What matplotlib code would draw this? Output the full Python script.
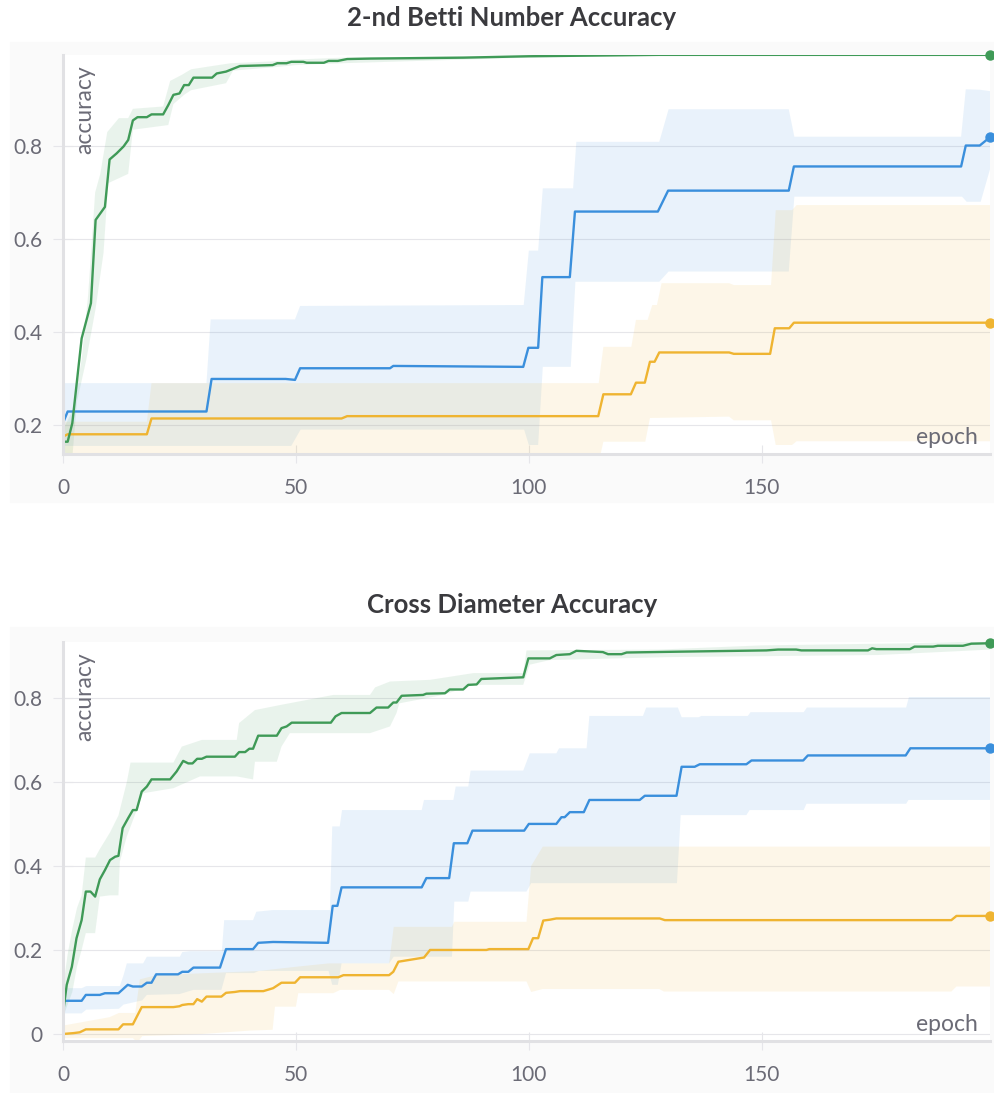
import matplotlib
matplotlib.use("Agg")
import matplotlib.pyplot as plt
from matplotlib.patches import Rectangle
import numpy as np

plt.rcParams["font.family"] = ["Lato", "DejaVu Sans"]

GREEN = "#3f9a57"
BLUE = "#3a8fdc"
YELLOW = "#efb431"
GRID = "#e6e6ea"
AXIS = "#e1e1e4"
TEXT = "#6b6b76"
TITLE = "#3a3a3e"

# ---------------- 2-nd Betti Number Accuracy ----------------
betti_green_x = [0, 1, 2, 4, 6, 7, 9, 10, 11.5, 13, 14, 15, 16, 18, 19, 21.5, 22.6, 23.7, 25, 26,
                 27, 28, 32, 33, 35, 38, 45, 46, 48, 49, 51.6, 52.3, 56, 57, 59, 61, 66, 86, 100, 128, 199]
betti_green_y = [0.164, 0.164, 0.204, 0.386, 0.462, 0.641, 0.669, 0.771, 0.784, 0.799, 0.813, 0.855, 0.862,
                 0.862, 0.868, 0.868, 0.888, 0.910, 0.913, 0.931, 0.931, 0.947, 0.947, 0.956, 0.960, 0.972,
                 0.974, 0.978, 0.978, 0.981, 0.981, 0.979, 0.979, 0.983, 0.983, 0.987, 0.988, 0.990, 0.993,
                 0.996, 0.996]
betti_green_hi_x = [0, 2, 4, 5.4, 6.9, 8, 9.5, 12, 14, 15, 21.5, 23, 25.5, 27.5, 32, 36, 45, 50, 60, 100, 130, 199]
betti_green_hi_y = [0.19, 0.23, 0.34, 0.48, 0.70, 0.74, 0.83, 0.86, 0.86, 0.88, 0.885, 0.94, 0.953, 0.965,
                    0.972, 0.978, 0.982, 0.986, 0.99, 0.995, 0.998, 0.998]
betti_green_lo_x = [0, 2, 3, 5, 7, 8.7, 9.7, 14, 15, 22.6, 23.7, 26, 27.5, 35, 36.5, 46, 50, 60, 100, 130, 199]
betti_green_lo_y = [0.14, 0.13, 0.25, 0.34, 0.45, 0.57, 0.72, 0.74, 0.835, 0.845, 0.89, 0.91, 0.92, 0.935,
                    0.962, 0.97, 0.974, 0.978, 0.99, 0.994, 0.994]

betti_blue_x = [0, 1, 30.8, 31.9, 47.8, 49.8, 50.9, 70.2, 70.9, 98.8, 99.9, 102, 102.9, 108.8, 109.9,
                127.7, 129.9, 155.8, 156.9, 192.8, 193.8, 196.8, 199]
betti_blue_y = [0.204, 0.229, 0.229, 0.299, 0.299, 0.297, 0.322, 0.322, 0.327, 0.325, 0.366, 0.366, 0.518,
                0.518, 0.659, 0.659, 0.704, 0.704, 0.756, 0.756, 0.801, 0.801, 0.819]
betti_blue_hi_x = [0, 30.8, 31.7, 49.8, 50.9, 98.9, 100, 102, 103, 109.5, 110.2, 128, 130, 155.8, 157,
                   192.8, 193.8, 196.8, 199]
betti_blue_hi_y = [0.29, 0.29, 0.427, 0.427, 0.456, 0.458, 0.575, 0.575, 0.709, 0.709, 0.809, 0.809, 0.879,
                   0.879, 0.820, 0.820, 0.922, 0.921, 0.918]
betti_blue_lo_x = [0, 49, 51, 99, 100, 102, 103, 109, 110, 128, 130, 155.8, 157, 193, 194, 197, 199]
betti_blue_lo_y = [0.155, 0.155, 0.19, 0.19, 0.157, 0.157, 0.325, 0.325, 0.508, 0.508, 0.53, 0.53, 0.691,
                   0.691, 0.68, 0.68, 0.75]

betti_yellow_x = [0, 1, 18, 19, 59.8, 61, 114.9, 116, 121.9, 123, 124.9, 126, 127, 128, 143, 144, 151.8,
                  152.8, 155.9, 156.9, 199]
betti_yellow_y = [0.175, 0.18, 0.18, 0.214, 0.214, 0.219, 0.219, 0.266, 0.266, 0.291, 0.291, 0.336, 0.336,
                  0.356, 0.356, 0.353, 0.353, 0.408, 0.408, 0.420, 0.420]
betti_yellow_hi_x = [0, 18, 19, 115, 116, 122, 123, 125.5, 126.5, 127.5, 128.5, 143, 144, 152, 153, 156.5,
                     157.5, 199]
betti_yellow_hi_y = [0.207, 0.207, 0.29, 0.29, 0.368, 0.368, 0.426, 0.426, 0.458, 0.458, 0.505, 0.505, 0.501,
                     0.501, 0.662, 0.662, 0.673, 0.673]
betti_yellow_lo_x = [0, 1, 115, 116, 125, 126, 143, 144, 152, 153, 156.5, 157.5, 199]
betti_yellow_lo_y = [0.16, 0.12, 0.12, 0.164, 0.164, 0.215, 0.218, 0.21, 0.21, 0.157, 0.157, 0.165, 0.165]

# ---------------- Cross Diameter Accuracy ----------------
cross_green_x = [0, 0.8, 1.9, 2.9, 4.0, 4.9, 5.9, 6.9, 7.9, 9.0, 10.1, 11.2, 11.9, 12.8, 14.0, 15.0, 15.8,
                 16.9, 18.0, 19.0, 23.0, 24.4, 25.8, 26.9, 27.8, 28.8, 29.8, 30.8, 36.9, 37.8, 39.1, 40.0,
                 40.8, 41.9, 45.9, 46.9, 48.0, 49.1, 57.5, 58.5, 59.8, 65.9, 67.3, 69.8, 70.9, 71.6, 72.7,
                 77.3, 78.0, 82.0, 83.0, 85.9, 87.0, 88.8, 89.8, 98.8, 99.9, 104.5, 105.9, 108.8, 110.2,
                 115.9, 117.0, 119.9, 121.0, 132.4, 151.0, 153.5, 157.4, 158.5, 172.8, 173.7, 174.6, 181.8,
                 182.8, 186.8, 187.8, 193.2, 195.0, 199]
cross_green_y = [0.049, 0.117, 0.160, 0.228, 0.271, 0.339, 0.339, 0.327, 0.368, 0.390, 0.414, 0.422, 0.424,
                 0.490, 0.514, 0.533, 0.533, 0.577, 0.589, 0.606, 0.606, 0.625, 0.650, 0.644, 0.644, 0.655,
                 0.655, 0.660, 0.660, 0.671, 0.671, 0.679, 0.679, 0.710, 0.710, 0.728, 0.732, 0.741, 0.741,
                 0.756, 0.764, 0.764, 0.777, 0.777, 0.789, 0.789, 0.805, 0.807, 0.810, 0.811, 0.820, 0.820,
                 0.831, 0.832, 0.845, 0.849, 0.894, 0.894, 0.902, 0.904, 0.912, 0.909, 0.904, 0.904, 0.908,
                 0.910, 0.913, 0.915, 0.915, 0.913, 0.913, 0.918, 0.916, 0.916, 0.922, 0.922, 0.924, 0.924,
                 0.929, 0.930]
cross_green_hi_x = [0, 1, 2, 3, 4, 4.9, 6.9, 7.9, 10.1, 11.9, 13.7, 14.5, 23.7, 25.5, 29.8, 37.3, 37.8,
                    41.2, 46.6, 58, 65.9, 67, 70.2, 78.8, 88.1, 98.8, 99.5, 128, 150, 182, 199]
cross_green_hi_y = [0.11, 0.19, 0.25, 0.30, 0.33, 0.42, 0.42, 0.44, 0.48, 0.52, 0.60, 0.646, 0.646, 0.684,
                    0.70, 0.70, 0.74, 0.771, 0.783, 0.807, 0.807, 0.825, 0.839, 0.843, 0.859, 0.859, 0.913,
                    0.915, 0.925, 0.93, 0.935]
cross_green_lo_x = [0, 2, 3, 4, 4.9, 6.9, 7.9, 10.1, 11.9, 12.2, 13.7, 17.2, 23.7, 29.4, 37.3, 40.8, 41.2,
                    45.9, 46.9, 48.7, 65.9, 70.2, 71.6, 72.2, 81.6, 88.1, 98.8, 100.2, 104.5, 130, 175, 190, 199]
cross_green_lo_y = [0.04, 0.10, 0.16, 0.20, 0.24, 0.24, 0.327, 0.33, 0.33, 0.41, 0.47, 0.573, 0.585, 0.613,
                    0.613, 0.606, 0.648, 0.648, 0.684, 0.716, 0.716, 0.732, 0.764, 0.787, 0.807, 0.831, 0.831,
                    0.879, 0.89, 0.897, 0.902, 0.91, 0.915]

cross_blue_x = [0, 4.0, 4.9, 7.9, 9.0, 11.9, 13.9, 15.0, 16.9, 18.0, 19.0, 20.0, 24.7, 25.6, 26.9, 28.0,
                33.7, 35.0, 40.8, 41.9, 45.1, 56.9, 57.9, 58.9, 59.8, 77.0, 78.0, 82.9, 83.9, 86.8, 87.9,
                99.0, 100.0, 105.9, 107.0, 107.7, 108.8, 111.8, 113.0, 123.8, 124.9, 131.7, 132.8, 135.6,
                136.7, 146.7, 147.8, 158.9, 159.9, 180.9, 181.9, 199]
cross_blue_y = [0.079, 0.079, 0.093, 0.093, 0.097, 0.097, 0.117, 0.113, 0.113, 0.122, 0.122, 0.142, 0.142,
                0.148, 0.148, 0.158, 0.158, 0.202, 0.202, 0.217, 0.219, 0.217, 0.305, 0.305, 0.349, 0.349,
                0.371, 0.371, 0.454, 0.454, 0.484, 0.484, 0.500, 0.500, 0.516, 0.516, 0.528, 0.528, 0.557,
                0.557, 0.567, 0.567, 0.636, 0.636, 0.642, 0.642, 0.651, 0.651, 0.663, 0.663, 0.680, 0.680]
cross_blue_hi_x = [0, 4, 5, 12.2, 13, 13.7, 17.2, 18, 25.1, 25.6, 27.3, 34.1, 34.6, 40.8, 41.5, 45.1, 57.3,
                   57.8, 59.4, 59.9, 77, 77.5, 83.8, 84.3, 87, 87.5, 98.8, 100.2, 105.9, 106.5, 112.4, 113,
                   124.5, 125.2, 132, 132.8, 136.5, 137, 147, 147.6, 159, 159.7, 181, 181.6, 199]
cross_blue_hi_y = [0.109, 0.109, 0.114, 0.114, 0.14, 0.168, 0.168, 0.184, 0.184, 0.195, 0.197, 0.197, 0.271,
                   0.271, 0.291, 0.295, 0.295, 0.494, 0.494, 0.533, 0.533, 0.557, 0.557, 0.589, 0.589, 0.627,
                   0.627, 0.668, 0.668, 0.68, 0.68, 0.757, 0.757, 0.777, 0.777, 0.754, 0.754, 0.757, 0.757,
                   0.766, 0.766, 0.777, 0.777, 0.802, 0.802]
cross_blue_lo_x = [0, 4, 5, 12, 13, 17, 18, 25, 28, 34, 35, 41, 42, 57, 57.8, 59, 59.8, 70, 71, 83.5, 84, 87,
                   87.5, 99.5, 100.5, 131.8, 132.6, 146.7, 147.4, 159, 159.6, 181, 181.5, 199]
cross_blue_lo_y = [0.049, 0.049, 0.058, 0.06, 0.07, 0.08, 0.093, 0.095, 0.105, 0.105, 0.145, 0.145, 0.15,
                   0.15, 0.117, 0.117, 0.168, 0.168, 0.184, 0.184, 0.315, 0.315, 0.339, 0.339, 0.359, 0.359,
                   0.521, 0.521, 0.533, 0.533, 0.548, 0.548, 0.557, 0.557]

cross_yellow_x = [0, 2.2, 3.6, 4.9, 11.9, 12.9, 15.0, 16.9, 23.7, 25.0, 25.6, 26.9, 28.0, 28.8, 29.8, 30.8,
                  34.0, 35.0, 36.9, 38.0, 43.0, 45.1, 46.9, 49.8, 50.9, 59.1, 60.2, 70.0, 70.9, 72.0, 77.5,
                  78.8, 90.9, 91.5, 99.9, 100.9, 102.0, 103.1, 104.5, 105.9, 128.1, 129.2, 190.7, 191.8, 199]
cross_yellow_y = [0.0, 0.002, 0.004, 0.011, 0.011, 0.023, 0.023, 0.064, 0.064, 0.066, 0.069, 0.071, 0.071,
                  0.083, 0.077, 0.089, 0.089, 0.098, 0.100, 0.102, 0.102, 0.109, 0.122, 0.122, 0.135, 0.135,
                  0.140, 0.140, 0.148, 0.172, 0.182, 0.200, 0.200, 0.202, 0.202, 0.228, 0.228, 0.270, 0.272,
                  0.275, 0.275, 0.271, 0.271, 0.281, 0.281]
cross_yellow_hi_x = [0, 10, 12, 15.5, 16.5, 20, 42, 50, 57, 70, 71, 83.5, 84, 99.5, 100.5, 103, 199]
cross_yellow_hi_y = [0.02, 0.04, 0.05, 0.05, 0.13, 0.14, 0.15, 0.16, 0.168, 0.168, 0.255, 0.255, 0.267,
                     0.267, 0.40, 0.446, 0.446]
cross_yellow_lo_x = [0, 15, 16, 17, 30, 40, 45, 45.5, 50, 50.5, 58, 59.5, 70, 71, 72, 99.5, 100.5, 103, 128,
                     129, 190.7, 191.8, 199]
cross_yellow_lo_y = [-0.01, -0.01, -0.02, -0.005, 0.0, 0.008, 0.01, 0.065, 0.065, 0.097, 0.097, 0.105, 0.105,
                     0.095, 0.125, 0.125, 0.10, 0.107, 0.107, 0.101, 0.101, 0.113, 0.113]

ytick_vals = [0, 0.2, 0.4, 0.6, 0.8]
ytick_labels = ["0", "0.2", "0.4", "0.6", "0.8"]
xtick_vals = [0, 50, 100, 150]


def draw_band(ax, hx, hy, lx, ly, color):
    xs = np.concatenate([hx, lx[::-1]])
    ys = np.concatenate([hy, ly[::-1]])
    ax.fill(xs, ys, color=color, alpha=0.11, lw=0, zorder=1)


def draw_series(ax, x, y, color):
    ax.plot(x, y, color=color, lw=1.7, zorder=3, solid_joinstyle="round")
    ax.plot(x[-1], y[-1], "o", ms=6.5, color=color, zorder=4, clip_on=False)


def style_axes(ax, ylim):
    # ticks first: set_yticks would widen the view limits otherwise
    ax.set_yticks(ytick_vals)
    ax.set_yticklabels(ytick_labels)
    ax.set_xticks(xtick_vals)
    ax.set_xticklabels([str(v) for v in xtick_vals])
    ax.set_xlim(0, 199)
    ax.set_ylim(*ylim)
    for s in ["top", "right"]:
        ax.spines[s].set_visible(False)
    for s in ["left", "bottom"]:
        ax.spines[s].set_color(AXIS)
        ax.spines[s].set_linewidth(2.2)
        ax.spines[s].set_zorder(5)
    ax.tick_params(axis="y", direction="inout", length=14, width=0.8, color=GRID,
                   labelsize=15, labelcolor=TEXT, pad=8)
    ax.tick_params(axis="x", direction="inout", length=13, width=0.8, color=GRID,
                   labelsize=15, labelcolor=TEXT, pad=11)
    ax.grid(axis="y", color=GRID, lw=0.8, zorder=0)
    ax.set_axisbelow(True)
    ax.text(0.0237, 0.975, "accuracy", transform=ax.transAxes, rotation=90,
            ha="center", va="top", fontsize=16.5, color=TEXT)
    ax.text(0.987, 0.042, "epoch", transform=ax.transAxes, ha="right", va="center",
            fontsize=16.5, color=TEXT)


fig = plt.figure(figsize=(9.94, 10.93), dpi=100)
W, H = 994.0, 1093.0

# light panels behind each chart
fig.patches.append(Rectangle((10 / W, 1 - 502 / H), 984 / W, 460 / H, transform=fig.transFigure,
                             color="#fafafa", zorder=-1))
fig.patches.append(Rectangle((10 / W, 0), 984 / W, 1 - 627 / H, transform=fig.transFigure,
                             color="#fafafa", zorder=-1))

ax1 = fig.add_axes([63 / W, 1 - 454 / H, 927 / W, 399 / H])
ax2 = fig.add_axes([63 / W, 1 - 1041 / H, 927 / W, 399 / H])

# top chart
draw_band(ax1, betti_green_hi_x, betti_green_hi_y, betti_green_lo_x, betti_green_lo_y, GREEN)
draw_band(ax1, betti_blue_hi_x, betti_blue_hi_y, betti_blue_lo_x, betti_blue_lo_y, BLUE)
draw_band(ax1, betti_yellow_hi_x, betti_yellow_hi_y, betti_yellow_lo_x, betti_yellow_lo_y, YELLOW)
draw_series(ax1, betti_yellow_x, betti_yellow_y, YELLOW)
draw_series(ax1, betti_blue_x, betti_blue_y, BLUE)
draw_series(ax1, betti_green_x, betti_green_y, GREEN)
style_axes(ax1, (0.1376, 0.9957))

# bottom chart
draw_band(ax2, cross_green_hi_x, cross_green_hi_y, cross_green_lo_x, cross_green_lo_y, GREEN)
draw_band(ax2, cross_blue_hi_x, cross_blue_hi_y, cross_blue_lo_x, cross_blue_lo_y, BLUE)
draw_band(ax2, cross_yellow_hi_x, cross_yellow_hi_y, cross_yellow_lo_x, cross_yellow_lo_y, YELLOW)
draw_series(ax2, cross_yellow_x, cross_yellow_y, YELLOW)
draw_series(ax2, cross_blue_x, cross_blue_y, BLUE)
draw_series(ax2, cross_green_x, cross_green_y, GREEN)
style_axes(ax2, (-0.0167, 0.933))

fig.text(512 / W, 1 - 18 / H, "2-nd Betti Number Accuracy", ha="center", va="center",
         fontsize=18.5, fontweight="bold", color=TITLE)
fig.text(512 / W, 1 - 605 / H, "Cross Diameter Accuracy", ha="center", va="center",
         fontsize=18.5, fontweight="bold", color=TITLE)

fig.savefig("out.png", dpi=100)
